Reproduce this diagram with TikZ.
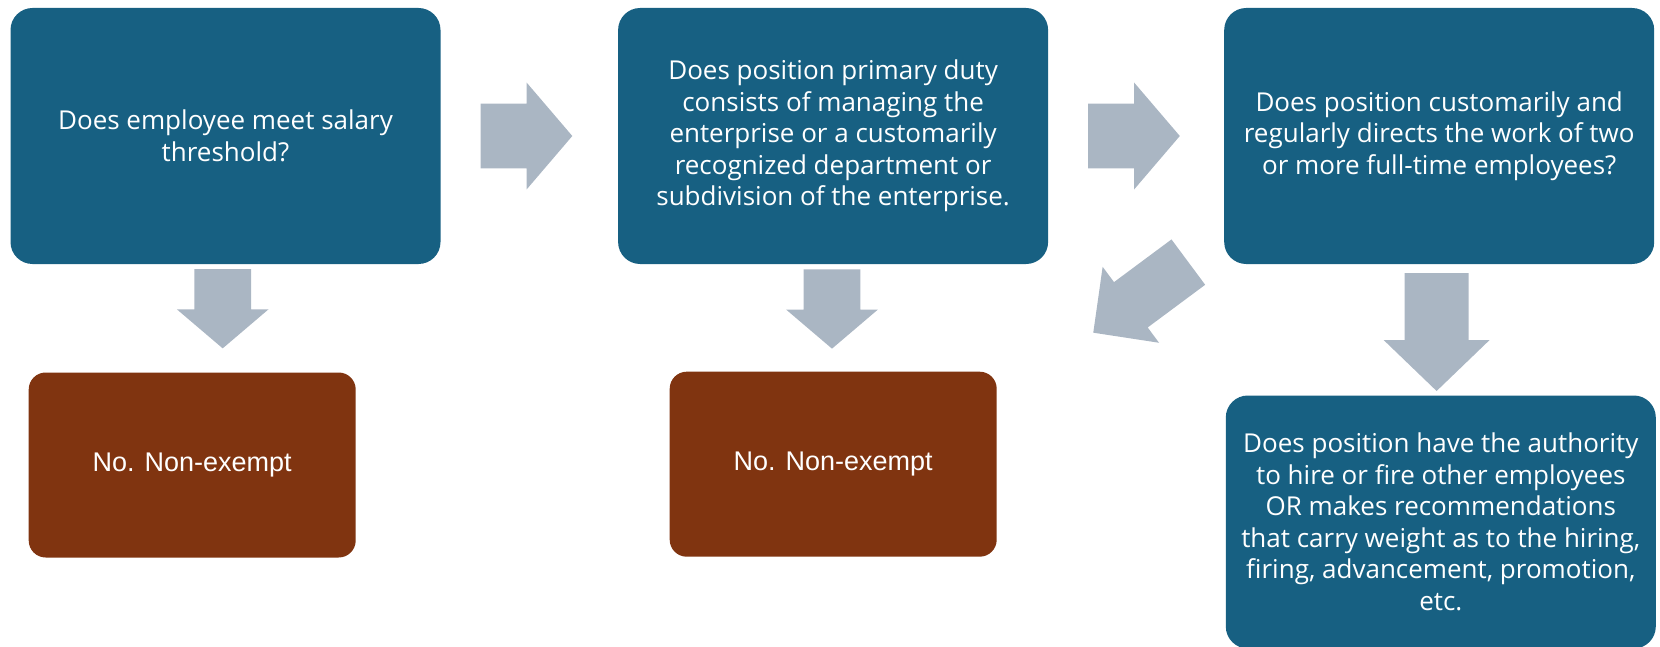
\documentclass[tikz,border=0pt]{standalone}
\usepackage{fontspec}
\setmainfont{Open Sans}
\newfontfamily\plainsans{Liberation Sans}
\definecolor{qblue}{HTML}{176082}
\definecolor{nbrown}{HTML}{803410}
\definecolor{flowgrey}{HTML}{AAB6C3}
\begin{document}
\begin{tikzpicture}[x=1pt,y=-1pt,
  question/.style={fill=qblue, rounded corners=22pt, text=white, align=center,
    inner sep=0pt, minimum width=430pt,
    font=\fontsize{26}{31.5}\selectfont},
  answer/.style={fill=nbrown, rounded corners=17pt, text=white, inner sep=0pt,
    minimum width=327pt, minimum height=185pt,
    font=\plainsans\fontsize{27}{32}\selectfont},
  % block arrow centred on its origin, pointing along +x:
  % total length / shaft width / head width / head length
  pics/blockarrow/.style args={#1/#2/#3/#4}{code={
    \fill[flowgrey] ({-#1/2},{-#2/2}) -- ({#1/2-#4},{-#2/2}) -- ({#1/2-#4},{-#3/2})
      -- ({#1/2},0) -- ({#1/2-#4},{#3/2}) -- ({#1/2-#4},{#2/2}) -- ({-#1/2},{#2/2}) -- cycle;
  }}
]
\useasboundingbox (0,0) rectangle (1660,647);

% question boxes
\node[question, minimum height=256pt] (q1) at (225.5,136)
  {Does employee meet salary\\threshold?};
\node[question, minimum height=256pt] (q2) at (833.1,136)
  {Does position primary duty\\consists of managing the\\enterprise or a customarily\\recognized department or\\subdivision of the enterprise.};
\node[question, minimum height=256pt] (q3) at (1439.2,136)
  {Does position customarily and\\regularly directs the work of two\\or more full-time employees?};
\node[question, minimum height=253pt] (q4) at (1440.8,522)
  {Does position have the authority\\to hire or fire other employees\\OR makes recommendations\\that carry weight as to the hiring,\\firing, advancement, promotion,\\etc.};

% outcome boxes
\node[answer] (n1) at (192.2,465) {No. Non-exempt};
\node[answer] (n2) at (833.2,464.2) {No. Non-exempt};

% flow arrows
\pic at (526.5,136) {blockarrow={91.6/64.6/106.7/45.6}};
\pic at (1134,136) {blockarrow={91.6/64.6/106.7/45.6}};
\pic[rotate=-90] at (222.7,308.7) {blockarrow={79.3/56.7/91.6/39}};
\pic[rotate=-90] at (832,309) {blockarrow={79.3/56.7/91.6/39}};
\pic[rotate=-90] at (1436.6,332) {blockarrow={118/64/106/51}};
\pic[rotate=216.6] at (1140.8,297.4) {blockarrow={118.4/56.5/94.6/46.8}};
\end{tikzpicture}
\end{document}
